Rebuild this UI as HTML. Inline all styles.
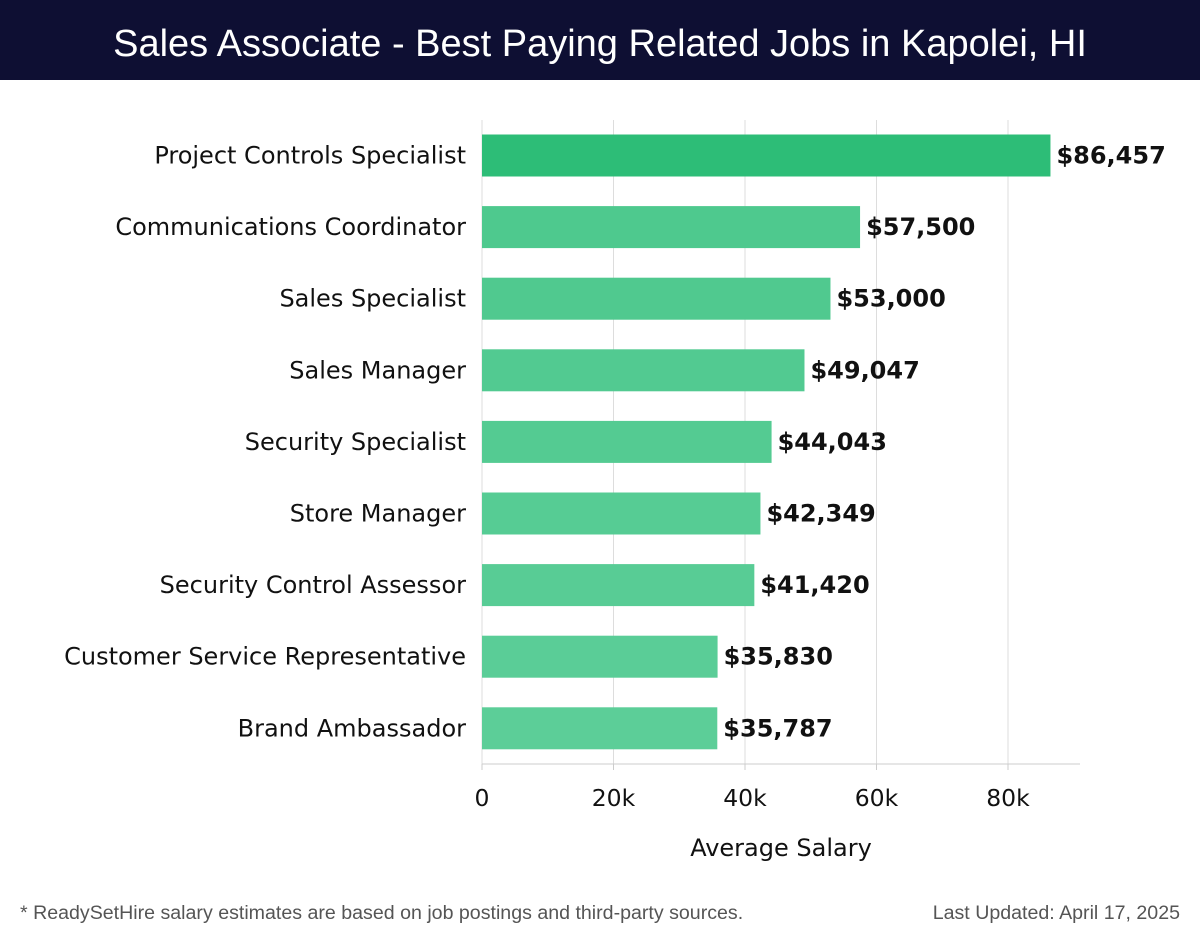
<!DOCTYPE html>
<html><head><meta charset="utf-8"><style>
body{margin:0;width:1200px;height:940px;background:#fff;overflow:hidden;font-family:"DejaVu Sans","Liberation Sans",sans-serif}
#hdr{position:absolute;left:0;top:0;width:1200px;height:80px;background:#0e0f33;color:#fff;font:38px "Liberation Sans","DejaVu Sans",sans-serif;text-align:center;line-height:88px}
</style></head><body>
<div id="hdr">Sales Associate - Best Paying Related Jobs in Kapolei, HI</div>
<svg id="chart" width="1200" height="940" style="position:absolute;left:0;top:0"></svg>
<script>
const categories=["Project Controls Specialist","Communications Coordinator","Sales Specialist","Sales Manager","Security Specialist","Store Manager","Security Control Assessor","Customer Service Representative","Brand Ambassador"];
const salaries=[86457,57500,53000,49047,44043,42349,41420,35830,35787];
const valueLabels=["$86,457","$57,500","$53,000","$49,047","$44,043","$42,349","$41,420","$35,830","$35,787"];
const tickValues=[0,20000,40000,60000,80000];
const tickLabels=["0","20k","40k","60k","80k"];
const NS="http://www.w3.org/2000/svg";
const svg=document.getElementById('chart');
const x=v=>482+v*526/80000;
const yc=i=>155.5+i*71.6;
function mk(t,a,txt){const e=document.createElementNS(NS,t);for(const k in a)e.setAttribute(k,a[k]);if(txt!=null)e.textContent=txt;svg.appendChild(e);return e;}
tickValues.forEach((v,i)=>{
 const g=mk('line',{x1:x(v),x2:x(v),y1:120,y2:764,stroke:'#dddddd','stroke-width':1});
 
 
 const t=mk('line',{x1:x(v),x2:x(v),y1:764,y2:770,stroke:'#cccccc'});
 
 
 const l=mk('text',{x:x(v),y:806,'text-anchor':'middle','font-size':23.5,fill:'#111'},tickLabels[i]);
 
 
});
const ax=mk('line',{x1:482,x2:1080,y1:764,y2:764,stroke:'#cccccc'});


categories.forEach((c,i)=>{
 const col=i===0?'#2dbd77':`rgb(${76+i*2},${200+i*0.7},${140+i*1.5})`;
 const b=mk('rect',{x:482,y:yc(i)-21,width:x(salaries[i])-482,height:42,fill:col});
 
 
 const l=mk('text',{x:466,y:yc(i)+8,'text-anchor':'end','font-size':24,fill:'#111'},c);
 
 
 const v=mk('text',{x:x(salaries[i])+6,y:yc(i)+8,'font-size':24,'font-weight':'bold',fill:'#111'},valueLabels[i]);
 
 
});
const at=mk('text',{x:781,y:856,'text-anchor':'middle','font-size':24,fill:'#111'},'Average Salary');


const f1=mk('text',{x:20,y:919,'font-size':19.6,fill:'#555','font-family':'Liberation Sans, sans-serif'},'* ReadySetHire salary estimates are based on job postings and third-party sources.');


const f2=mk('text',{x:1180,y:919,'text-anchor':'end','font-size':19.6,fill:'#555','font-family':'Liberation Sans, sans-serif'},'Last Updated: April 17, 2025');


</script>
</body></html>
